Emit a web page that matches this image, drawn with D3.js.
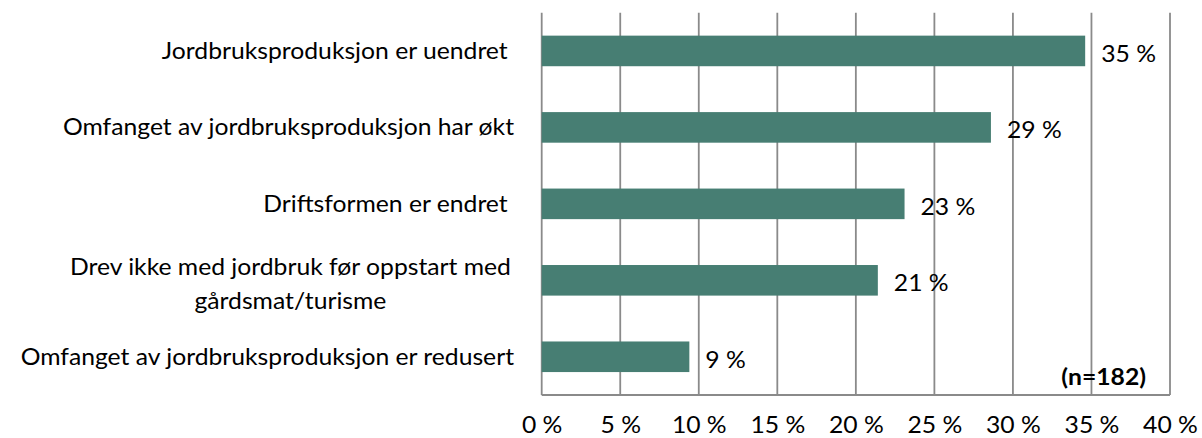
<!DOCTYPE html>
<html>
<head>
<meta charset="utf-8">
<script src="https://cdn.jsdelivr.net/npm/d3@7"></script>
<style>
  html, body { margin: 0; padding: 0; background: #fff; }
  svg { display: block; }
  text { font-family: Lato, "Noto Sans", sans-serif; fill: #000; white-space: pre; }
</style>
</head>
<body>
<svg id="chart" width="1202" height="438"></svg>
<script>
// ---- data ----
const categories = [
  "Jordbruksproduksjon er uendret ",
  "Omfanget av jordbruksproduksjon har økt",
  "Driftsformen er endret ",
  "Drev ikke med jordbruk før oppstart med\ngårdsmat/turisme",
  "Omfanget av jordbruksproduksjon er redusert"
];
const values = [34.6, 28.6, 23.1, 21.4, 9.4];
const valueLabels = ["35 %", "29 %", "23 %", "21 %", "9 %"];
const xTicks = [0, 5, 10, 15, 20, 25, 30, 35, 40];
const note = "(n=182)";

// ---- layout ----
const W = 1202, H = 438;
const plot = { left: 541.7, right: 1170, top: 12.7, bottom: 395 };
const fontSize = 23.3;
const barColor = "#477e73";
const gridColor = "#8a8a8a";

const svg = d3.select("#chart");

// calibrate horizontal text scaling so glyph widths resemble the original narrow font
const probe = svg.append("text").style("font-size", fontSize + "px").text("Jordbruksproduksjon er uendret");
const k = 346 / probe.node().getComputedTextLength();
probe.remove();

const x = d3.scaleLinear().domain([0, 40]).range([plot.left, plot.right]);
const y = d3.scaleBand().domain(categories).range([plot.top, plot.bottom])
  .paddingInner(0.6).paddingOuter(0.3);

// gridlines
svg.append("g").selectAll("line").data(xTicks).join("line")
  .attr("x1", d => x(d)).attr("x2", d => x(d))
  .attr("y1", plot.top).attr("y2", plot.bottom)
  .attr("stroke", gridColor).attr("stroke-width", 1.8);

// bottom axis
const xAxis = d3.axisBottom(x).tickValues(xTicks).tickFormat(d => d + " %").tickSize(0).tickPadding(0);
const gx = svg.append("g").attr("transform", `translate(0,${plot.bottom})`).call(xAxis);
gx.select(".domain").attr("stroke", gridColor).attr("stroke-width", 1.8)
  .attr("d", `M${plot.left},0H${plot.right}`);
gx.selectAll("text")
  .attr("y", 38).attr("dy", null)
  .attr("transform", `scale(${k},1)`)
  .style("font-size", fontSize + "px").style("font-family", "Lato, 'Noto Sans', sans-serif")
  .attr("fill", "#000");

// bars
svg.append("g").selectAll("rect").data(values).join("rect")
  .attr("x", x(0))
  .attr("y", (d, i) => y(categories[i]))
  .attr("width", d => x(d) - x(0))
  .attr("height", y.bandwidth())
  .attr("fill", barColor);

// value labels
svg.append("g").selectAll("text").data(values).join("text")
  .attr("transform", (d, i) => `translate(${x(d) + 16},${y(categories[i]) + y.bandwidth() / 2 + 11}) scale(${k},1)`)
  .style("font-size", fontSize + "px")
  .text((d, i) => valueLabels[i]);

// category labels
const labelRight = 514;
const catG = svg.append("g");
categories.forEach((c, i) => {
  const lines = c.split("\n");
  const cy = y(c) + y.bandwidth() / 2;
  if (lines.length === 1) {
    catG.append("text")
      .attr("transform", `translate(${labelRight},${cy + 8}) scale(${k},1)`)
      .attr("text-anchor", "end")
      .style("font-size", fontSize + "px")
      .text(lines[0]);
  } else {
    const t0 = catG.append("text").style("font-size", fontSize + "px").text(lines[0]);
    const w0 = t0.node().getComputedTextLength() * k;
    t0.remove();
    const cx = 511 - w0 / 2;
    lines.forEach((ln, j) => {
      catG.append("text")
        .attr("transform", `translate(${cx},${cy - 5 + j * 34}) scale(${k},1)`)
        .attr("text-anchor", "middle")
        .style("font-size", fontSize + "px")
        .text(ln);
    });
  }
});

// note
svg.append("text")
  .attr("transform", `translate(1146,385) scale(${k},1)`)
  .attr("text-anchor", "end")
  .style("font-size", fontSize + "px")
  .style("font-weight", "bold")
  .text(note);
</script>
</body>
</html>
